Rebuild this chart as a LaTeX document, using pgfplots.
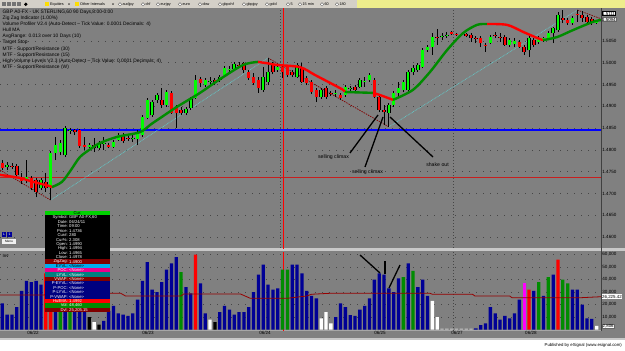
\documentclass[border=0pt]{standalone}
\usepackage{fontspec}
\setmainfont{Liberation Sans}
\usepackage{pgfplots}
\pgfplotsset{compat=1.18}
\usepackage{pgfplotstable}

\definecolor{bg}{RGB}{128,128,128}
\definecolor{candleG}{RGB}{0,255,0}
\definecolor{candleR}{RGB}{255,0,0}
\definecolor{maG}{RGB}{0,140,0}
\definecolor{maR}{RGB}{255,0,0}
\definecolor{volB}{RGB}{0,0,150}
\definecolor{volG}{RGB}{0,140,0}
\definecolor{volR}{RGB}{255,0,0}
\definecolor{volM}{RGB}{255,0,255}
\definecolor{volL}{RGB}{200,200,200}
\definecolor{zzR}{RGB}{130,0,0}
\definecolor{zzC}{RGB}{100,200,200}
\definecolor{gridc}{RGB}{70,70,70}
\definecolor{tbgray}{RGB}{212,208,200}
\definecolor{tbyel}{RGB}{238,238,140}
\definecolor{avgc}{RGB}{150,0,0}
\definecolor{navyc}{RGB}{0,0,128}
\definecolor{darkredc}{RGB}{128,0,0}
\definecolor{tealc}{RGB}{0,128,128}
\definecolor{hdrgreen}{RGB}{0,210,0}
\definecolor{hlred}{RGB}{200,30,30}
\definecolor{sepc}{RGB}{200,200,200}
\definecolor{supblue}{RGB}{0,0,255}

\newcommand{\tf}[1]{\fontsize{#1}{#1}\selectfont}

\pgfplotsset{errbaronly/.style={only marks, mark=*, mark size=0.05pt,
  mark options={draw opacity=0, fill opacity=0}}}

\pgfplotstableread{
i o h l c
0 1.4770 1.4777 1.4754 1.4759
1 1.4761 1.4772 1.4754 1.4766
2 1.4763 1.4770 1.4756 1.4761
3 1.4763 1.4768 1.4736 1.4743
4 1.4733 1.4747 1.4722 1.4729
5 1.4731 1.4777 1.4724 1.4738
6 1.4736 1.4740 1.4708 1.4713
7 1.4731 1.4736 1.4692 1.4704
8 1.4713 1.4736 1.4708 1.4731
9 1.4727 1.4747 1.4704 1.4713
10 1.4713 1.4798 1.4685 1.4793
11 1.4793 1.4830 1.4777 1.4811
12 1.4795 1.4823 1.4788 1.4816
13 1.4788 1.4855 1.4784 1.4851
14 1.4844 1.4851 1.4837 1.4846
15 1.4846 1.4848 1.4834 1.4841
16 1.4846 1.4848 1.4805 1.4809
17 1.4811 1.4830 1.4800 1.4807
18 1.4807 1.4816 1.4805 1.4811
19 1.4811 1.4828 1.4795 1.4805
20 1.4805 1.4821 1.4800 1.4816
21 1.4814 1.4830 1.4800 1.4816
22 1.4811 1.4816 1.4805 1.4807
23 1.4807 1.4823 1.4805 1.4818
24 1.4823 1.4839 1.4821 1.4834
25 1.4834 1.4839 1.4816 1.4821
26 1.4828 1.4834 1.4821 1.4825
27 1.4825 1.4837 1.4818 1.4828
28 1.4825 1.4846 1.4811 1.4841
29 1.4834 1.4880 1.4830 1.4876
30 1.4873 1.4919 1.4870 1.4915
31 1.4880 1.4915 1.4876 1.4910
32 1.4915 1.4931 1.4908 1.4926
33 1.4915 1.4942 1.4896 1.4903
34 1.4903 1.4938 1.4899 1.4933
35 1.4931 1.4935 1.4883 1.4885
36 1.4899 1.4903 1.4851 1.4885
37 1.4892 1.4899 1.4880 1.4885
38 1.4885 1.4899 1.4880 1.4894
39 1.4896 1.4922 1.4892 1.4917
40 1.4919 1.4972 1.4917 1.4961
41 1.4963 1.4967 1.4945 1.4954
42 1.4949 1.4965 1.4945 1.4961
43 1.4956 1.4967 1.4945 1.4958
44 1.4961 1.4965 1.4949 1.4954
45 1.4961 1.4972 1.4956 1.4967
46 1.4972 1.4993 1.4967 1.4988
47 1.4983 1.4993 1.4977 1.4986
48 1.4986 1.5002 1.4983 1.4997
49 1.4995 1.5002 1.4988 1.4993
50 1.4999 1.5002 1.4977 1.4983
51 1.4979 1.4983 1.4961 1.4965
52 1.4967 1.4977 1.4949 1.4954
53 1.4961 1.4967 1.4931 1.4942
54 1.4938 1.4990 1.4933 1.4967
55 1.4956 1.5011 1.4949 1.4979
56 1.4995 1.5002 1.4974 1.4979
57 1.4983 1.4997 1.4979 1.4990
58 1.4990 1.4994 1.4965 1.4978
59 1.4990 1.4995 1.4967 1.4972
60 1.4979 1.4983 1.4967 1.4972
61 1.4967 1.4999 1.4965 1.4995
62 1.4988 1.4999 1.4954 1.4956
63 1.4965 1.4970 1.4949 1.4954
64 1.4956 1.4961 1.4928 1.4933
65 1.4938 1.4942 1.4910 1.4922
66 1.4922 1.4942 1.4917 1.4938
67 1.4942 1.4947 1.4917 1.4922
68 1.4931 1.4935 1.4924 1.4928
69 1.4928 1.4938 1.4922 1.4931
70 1.4926 1.4931 1.4915 1.4919
71 1.4926 1.4949 1.4922 1.4945
72 1.4940 1.4947 1.4935 1.4942
73 1.4945 1.4949 1.4933 1.4938
74 1.4945 1.4965 1.4942 1.4961
75 1.4956 1.4967 1.4945 1.4958
76 1.4961 1.4977 1.4956 1.4972
77 1.4961 1.4965 1.4919 1.4922
78 1.4922 1.4926 1.4887 1.4892
79 1.4892 1.4903 1.4857 1.4887
80 1.4885 1.4908 1.4853 1.4903
81 1.4903 1.4935 1.4899 1.4931
82 1.4931 1.4956 1.4922 1.4942
83 1.4938 1.4961 1.4933 1.4956
84 1.4938 1.4983 1.4933 1.4979
85 1.4979 1.4995 1.4972 1.4988
86 1.4983 1.4999 1.4979 1.4995
87 1.4990 1.5034 1.4988 1.5029
88 1.5029 1.5041 1.5025 1.5036
89 1.5036 1.5068 1.5018 1.5059
90 1.5059 1.5078 1.5041 1.5057
91 1.5059 1.5068 1.5052 1.5062
92 1.5062 1.5071 1.5057 1.5064
93 1.5071 1.5073 1.5064 1.5066
94 1.5066 1.5068 1.5062 1.5064
95 1.5064 1.5068 1.5062 1.5066
96 1.5066 1.5068 1.5059 1.5062
97 1.5064 1.5068 1.5048 1.5057
98 1.5057 1.5062 1.5045 1.5055
99 1.5057 1.5062 1.5036 1.5045
100 1.5041 1.5045 1.5025 1.5039
101 1.5045 1.5064 1.5043 1.5059
102 1.5064 1.5071 1.5057 1.5062
103 1.5059 1.5068 1.5048 1.5057
104 1.5059 1.5064 1.5039 1.5041
105 1.5041 1.5057 1.5036 1.5052
106 1.5043 1.5057 1.5036 1.5050
107 1.5048 1.5052 1.5034 1.5036
108 1.5036 1.5041 1.5018 1.5025
109 1.5029 1.5062 1.5013 1.5057
110 1.5052 1.5057 1.5036 1.5041
111 1.5048 1.5062 1.5043 1.5057
112 1.5055 1.5059 1.5048 1.5057
113 1.5057 1.5073 1.5052 1.5068
114 1.5068 1.5082 1.5045 1.5080
115 1.5075 1.5117 1.5071 1.5110
116 1.5103 1.5121 1.5091 1.5098
117 1.5098 1.5103 1.5087 1.5091
118 1.5091 1.5107 1.5087 1.5103
119 1.5112 1.5121 1.5094 1.5110
120 1.5110 1.5119 1.5094 1.5103
121 1.5105 1.5110 1.5089 1.5094
122 1.5101 1.5105 1.5087 1.5091
123 1.5091 1.5098 1.5089 1.5094
}\candles

\newcommand{\prow}[5]{%
  \fill[#2] (45,{211+4.39*#1}) rectangle (110,{211+4.39*(#1+1)});
  \node[text=#3,anchor=east,inner sep=0pt,font=\tf{4.2}] at (68,{213.3+4.39*#1}) {#4};
  \node[text=#3,anchor=west,inner sep=0pt,font=\tf{4.2}] at (69,{213.3+4.39*#1}) {#5};}

\newcommand{\tbitem}[2]{%
  \draw[black!70, line width=0.3bp, fill=white] (#1,4.3) circle (1.7);
  \node[anchor=west,inner sep=0pt,font=\tf{3.8}] at ({#1+2.3},4.4) {#2};}

\begin{document}
\begin{tikzpicture}[x=1bp,y=1bp]
\path[use as bounding box] (0,0) rectangle (625,350);
\fill[bg] (0,0) rectangle (625,350);

% ---------- chrome (pixel coordinates, y downwards)
\begin{scope}[shift={(0bp,350bp)}, x=1bp, y=-1bp]
  \fill[tbgray] (0,0) rectangle (357,8.5);
  \fill[tbyel] (357,0) rectangle (625,8.5);
  \draw[black!50, line width=0.4bp] (0,8.5) -- (625,8.5);
  \foreach \xx in {2,7,12,17} {\fill[black!55] (\xx,2.2) rectangle ({\xx+3.5},6.4);}
  \fill[black] (24,4.3) -- (25.8,2.5) -- (27.6,4.3) -- (25.8,6.1) -- cycle;
  \fill[yellow!80!orange] (45,2.5) rectangle (49,6.2);
  \node[anchor=west,inner sep=0pt,font=\tf{3.8}] at (50,4.4) {Equities};
  \fill[black] (68,3.6) -- (70,3.6) -- (69,5) -- cycle;
  \fill[yellow!80!orange] (75,2.5) rectangle (79,6.2);
  \node[anchor=west,inner sep=0pt,font=\tf{3.8}] at (80,4.4) {Other Intervals};
  \fill[black] (112,3.6) -- (114,3.6) -- (113,5) -- cycle;
  \tbitem{120}{audjpy}
  \tbitem{143}{chf}
  \tbitem{158}{eurjpy}
  \tbitem{180}{euro}
  \tbitem{200}{dow}
  \tbitem{220}{gbpchf}
  \tbitem{244}{gbpjpy}
  \tbitem{267}{gold}
  \tbitem{288}{5}
  \tbitem{300}{15 min}
  \tbitem{322}{60}
  \tbitem{337}{180}
  % separator between panels
  \fill[sepc] (0,248.3) rectangle (625,250.6);
  % bottom strips
  \draw[black!35, line width=0.5bp] (0,330.6) -- (601,330.6);
  \fill[sepc] (0,337.5) rectangle (625,339.8);
  \fill[white] (0,339.8) rectangle (625,350);
  \node[anchor=east,inner sep=0pt,font=\tf{4.3}] at (622,345) {Published by eSignal (www.esignal.com)};
  % legend texts
  \begin{scope}[every node/.style={anchor=west,inner sep=0pt,font=\tf{4.9},text=black}]
    \node at (2.5,12) {GBP A0-FX - UK STERLING,60 90 Days,8:00-0:00};
    \node at (2.5,18) {Zig Zag Indicator (1.00\%)};
    \node at (2.5,24) {Volume Profiler V2.4 (Auto-Detect -- Tick Value: 0.0001 Decimals: 4)};
    \node at (2.5,30.2) {Hull MA};
    \node at (2.5,36.4) {AvgRange: 0.013 over 10 Days (10)};
    \node at (2.5,42.6) {Target Stop};
    \node at (2.5,48.8) {MTF - Support/Resistance (30)};
    \node at (2.5,55) {MTF - Support/Resistance (15)};
    \node at (2.5,61.2) {High-Volume Levels V2.3 (Auto-Detect -- Tick Value: 0.0001 Decimals: 4)};
    \node at (2.5,67.4) {MTF - Support/Resistance (W)};
  \end{scope}
  \node[anchor=west,inner sep=0pt,font=\tf{4.5}] at (2.5,256) {Inv};
\end{scope}

% ---------- price panel
\begin{axis}[
  at={(0bp,102bp)}, anchor=south west,
  scale only axis, width=601bp, height=239.5bp,
  xmin=-0.476, xmax=123.9, ymin=1.457515, ymax=1.512456,
  axis line style={draw=none}, tick style={draw=none},
  xtick=\empty,
  ytick={1.46,1.465,1.47,1.475,1.48,1.485,1.49,1.495,1.5,1.505},
  yticklabel pos=right, scaled y ticks=false,
  /pgf/number format/assume math mode=true,
  yticklabel style={font=\tf{4.6}, text=black, inner sep=1.2bp,
    /pgf/number format/fixed, /pgf/number format/fixed zerofill,
    /pgf/number format/precision=4},
  ymajorgrids, grid style={gridc, line width=0.6bp, dash pattern=on 0.6bp off 6.4bp},
]
\draw[gridc, line width=0.6bp, dash pattern=on 0.6bp off 2.4bp] (axis cs:57.5,1.45) -- (axis cs:57.5,1.52);
\draw[gridc, line width=0.6bp, dash pattern=on 0.6bp off 2.4bp] (axis cs:93.3,1.45) -- (axis cs:93.3,1.52);
\draw[red, line width=0.6bp] (axis cs:58.1,1.45) -- (axis cs:58.1,1.52);
% support / resistance levels
\addplot[supblue, line width=1.4bp] coordinates {(-1,1.4846) (125,1.4846)};
\addplot[hlred, line width=0.8bp] coordinates {(-1,1.4738) (125,1.4738)};
% zig zag
\addplot[zzR, line width=0.7bp, dash pattern=on 1.5bp off 1bp] coordinates {(-0.48,1.4754) (10,1.4685)};
\addplot[zzC, line width=0.7bp, dash pattern=on 0.8bp off 0.8bp] coordinates {(10,1.4685) (55,1.5011)};
\addplot[zzR, line width=0.7bp, dash pattern=on 1.5bp off 1bp] coordinates {(55,1.5011) (80,1.4853)};
\addplot[zzC, line width=0.7bp, dash pattern=on 0.8bp off 0.8bp] coordinates {(80,1.4853) (119,1.5121)};
\addplot[zzR, line width=0.7bp, dash pattern=on 1.5bp off 1bp] coordinates {(119,1.5121) (123.9,1.5101)};
% wicks
\addplot[errbaronly,
  error bars/.cd, y dir=plus, y explicit, error mark=none,
  error bar style={draw=black, line width=0.85bp}]
  table[x=i, y=l, y error plus expr=\thisrow{h}-\thisrow{l}] {\candles};
% body outline
\addplot[errbaronly,
  error bars/.cd, y dir=plus, y explicit, error mark=none,
  error bar style={draw=black, line width=3.5bp}]
  table[x=i, y expr={min(\thisrow{o},\thisrow{c})}, y error plus expr={abs(\thisrow{c}-\thisrow{o})}] {\candles};
% green bodies
\addplot[errbaronly,
  restrict expr to domain={\thisrow{c}-\thisrow{o}}{0:1},
  error bars/.cd, y dir=plus, y explicit, error mark=none,
  error bar style={draw=candleG, line width=2.5bp}]
  table[x=i, y=o, y error plus expr={\thisrow{c}-\thisrow{o}}] {\candles};
% red bodies
\addplot[errbaronly,
  restrict expr to domain={\thisrow{c}-\thisrow{o}}{-1:0},
  error bars/.cd, y dir=plus, y explicit, error mark=none,
  error bar style={draw=candleR, line width=2.5bp}]
  table[x=i, y=c, y error plus expr={\thisrow{o}-\thisrow{c}}] {\candles};
% Hull MA
\addplot[maR, line width=2.4bp, line join=round, line cap=round] coordinates {(-0.48,1.4743) (3.66,1.4736) (6.35,1.4727) (9.87,1.4717) (10.29,1.4715)};
\addplot[maG, line width=2.4bp, smooth, tension=0.5, line join=round] coordinates {(10.29,1.4715) (12.36,1.4727) (14.2,1.4754) (16.08,1.4784) (18.36,1.4803) (20.22,1.4816) (23.74,1.4830) (28.5,1.4841) (30.77,1.4859) (32.64,1.4873) (36.15,1.4899) (40.91,1.4931) (44.85,1.4961) (49.81,1.4995) (52.92,1.5002)};
\addplot[maR, line width=2.4bp, smooth, tension=0.5, line join=round] coordinates {(52.92,1.5002) (54.78,1.4999) (56.85,1.4995) (61.61,1.4990) (64.71,1.4972) (67.82,1.4954) (70.51,1.4938) (70.92,1.4933)};
\addplot[maG, line width=2.4bp] coordinates {(70.92,1.4933) (76.72,1.4931)};
\addplot[maR, line width=2.4bp, smooth, tension=0.5] coordinates {(76.72,1.4931) (78.17,1.4926) (80.86,1.4915)};
\addplot[maG, line width=2.4bp, smooth, tension=0.5, line join=round] coordinates {(80.86,1.4915) (84.99,1.4938) (88.51,1.4979) (92.03,1.5029) (95.34,1.5068) (98.24,1.5087) (100.31,1.5089)};
\addplot[maR, line width=2.4bp, smooth, tension=0.5, line join=round] coordinates {(100.31,1.5089) (104.45,1.5087) (107.76,1.5071) (110.66,1.5057) (111.9,1.5052)};
\addplot[maG, line width=2.4bp, smooth, tension=0.5, line join=round] coordinates {(111.9,1.5052) (114.8,1.5059) (118.1,1.5075) (122.25,1.5094) (123.9,1.5098)};
\end{axis}

% ---------- volume panel
\begin{axis}[
  at={(0bp,20bp)}, anchor=south west,
  scale only axis, width=601bp, height=78bp,
  xmin=-0.476, xmax=123.9, ymin=-400, ymax=62000,
  axis line style={draw=none}, tick style={draw=none},
  xtick={6.35,30.15,54.37,78.17,94.1,109.4},
  xticklabels={06/22,06/23,06/24,06/25,06/27,06/28},
  xticklabel style={font=\tf{4.6}, text=black, inner sep=0.6bp},
  ytick={10000,20000,30000,40000,50000,60000},
  yticklabel pos=right, scaled y ticks=false,
  /pgf/number format/assume math mode=true,
  yticklabel style={font=\tf{4.6}, text=black, inner sep=1.2bp,
    /pgf/number format/fixed, /pgf/number format/precision=0,
    /pgf/number format/1000 sep={,}},
  ymajorgrids, grid style={gridc, line width=0.6bp, dash pattern=on 0.6bp off 6.4bp},
]
\draw[gridc, line width=0.6bp, dash pattern=on 0.6bp off 2.4bp] (axis cs:93.3,-1000) -- (axis cs:93.3,70000);
\draw[red, line width=0.6bp] (axis cs:58.1,-1000) -- (axis cs:58.1,70000);
\addplot[ybar, bar width=3.3bp, bar shift=0pt, fill=volB, draw=none] coordinates {
(0,21000)(1,12000)(2,12000)(3,18000)(4,31000)(5,39000)(6,38000)(7,39000)(8,36000)(11,30000)(13,28000)(15,25000)(16,22000)(17,18000)(21,7000)(22,15000)(23,19000)(24,13000)(25,12000)(26,11000)(27,13000)(28,24000)(29,39000)(30,54000)(31,32000)(32,30000)(33,38000)(34,48000)(35,53000)(36,58000)(38,34000)(39,29000)(41,37000)(42,13000)(45,14000)(46,19000)(47,16000)(48,12000)(49,14000)(50,14000)(51,18000)(52,30000)(53,44000)(54,52000)(55,36000)(56,32000)(57,33000)(60,52000)(61,52000)(62,45000)(63,31000)(64,27000)(65,25000)(69,10000)(70,21000)(71,18000)(72,11500)(73,11000)(74,16000)(75,19000)(76,25000)(77,40000)(78,45000)(79,44000)(80,33000)(81,30000)(82,41000)(84,53000)(86,34000)(87,40000)(88,27000)(98,1000)(99,3500)(100,5000)(101,18000)(102,13000)(103,8000)(104,11000)(105,9000)(106,13000)(107,24000)(110,31000)(112,27000)(114,44000)(118,32000)(119,32000)(120,20000)(121,9000)(122,8500)};
\addplot[ybar, bar width=3.3bp, bar shift=0pt, fill=volR, draw=none] coordinates {(9,45000)(10,40000)(40,60000)(109,32000)(115,56000)};
\addplot[ybar, bar width=3.3bp, bar shift=0pt, fill=volG, draw=none] coordinates {(12,35000)(14,30000)(37,46000)(58,48000)(59,48000)(83,42000)(85,47000)(111,38000)(113,42000)(116,40000)(117,37000)};
\addplot[ybar, bar width=3.3bp, bar shift=0pt, fill=white, draw=none] coordinates {(19,6000)(43,8000)(66,9000)(67,14000)(68,5000)(89,23000)(90,10000)(123,2806)};
\addplot[ybar, bar width=3.3bp, bar shift=0pt, fill=black, draw=none] coordinates {(18,10000)(20,4000)(44,6000)};
\addplot[ybar, bar width=3.3bp, bar shift=0pt, fill=volM, draw=none] coordinates {(108,37000)};
\addplot[ybar, bar width=3.3bp, bar shift=0pt, fill=volL, draw=none] coordinates {(91,800)(92,700)(93,800)(94,700)(95,800)(96,700)(97,800)};
\addplot[avgc, line width=0.8bp] coordinates {(-0.48,27600) (8,27600) (19.5,29000) (24.5,29000) (25.5,26800) (37,26800) (37.5,28400) (49.3,28400) (51.3,25000) (59,25000) (63,26800) (64,28200) (68,29000) (88.5,29000) (89,28200) (97.3,28200) (97.8,26800) (105,26800) (105.5,25400) (119.5,25400) (123.9,26225)};
\end{axis}

% ---------- overlays (pixel coordinates)
\begin{scope}[shift={(0bp,350bp)}, x=1bp, y=-1bp]
  \draw[black!75, line width=0.7bp] (601,8.5) -- (601,331);
  % current value boxes
  \node[fill=white, draw=black, line width=0.3bp, inner sep=0.5bp, anchor=west, font=\tf{4.4}] at (601.5,13.6) {1.5111};
  \node[fill=white!85!gray, draw=black!60, line width=0.3bp, inner sep=0.5bp, anchor=west, font=\tf{4.4}] at (601.5,19.6) {1.5094};
  \node[fill=white, inner sep=0.5bp, anchor=west, font=\tf{4.4}] at (601.5,296.8) {26,225.42};
  \node[fill=white, draw=black!60, line width=0.3bp, inner sep=0.5bp, anchor=west, font=\tf{4.4}] at (602,326) {2,806};
  % annotations
  \draw[black, line width=1.3bp] (378,115) -- (350,153);
  \draw[black, line width=1.3bp] (383,117) -- (365,167);
  \draw[black, line width=1.3bp] (390,117) -- (433,157);
  \node[font=\tf{5.2}, inner sep=0pt] at (333.5,157.5) {selling climax};
  \node[font=\tf{5.2}, inner sep=0pt] at (367.5,172.5) {selling climax};
  \node[font=\tf{5.2}, inner sep=0pt] at (437.5,164.5) {shake out};
  \draw[black, line width=1.3bp] (360,255) -- (380,273);
  \draw[black, line width=1.3bp] (385,261) -- (385,274);
  \draw[black, line width=1.3bp] (400,265) -- (389,288);
  % small buttons
  \fill[navyc!80!blue] (2,232) rectangle (6.3,237.3);
  \fill[navyc!80!blue] (7.3,232) rectangle (11.6,237.3);
  \node[text=white, font=\tf{3.4}, inner sep=0pt] at (4.15,234.7) {L};
  \node[text=white, font=\tf{3.4}, inner sep=0pt] at (9.45,234.7) {1};
  \fill[white!88!gray] (2,239) rectangle (16,243.6);
  \node[font=\tf{3.2}, inner sep=0pt] at (9,241.3) {Menu};
  % cursor data window
  \fill[hdrgreen] (45,211) rectangle (110,215.39);
  \node[font=\tf{4.2}, inner sep=0pt] at (77.5,213.3) {Cur.};
  \prow{1}{black}{white}{Symbol:}{GBP A0-FX,60}
  \prow{2}{black}{white}{Date:}{06/24/11}
  \prow{3}{black}{white}{Time:}{09:00}
  \prow{4}{black}{white}{Price:}{1.4736}
  \prow{5}{black}{white}{Cur\#:}{280}
  \prow{6}{black}{white}{Cur\%:}{2.308}
  \prow{7}{black}{white}{Open:}{1.4990}
  \prow{8}{black}{white}{High:}{1.4994}
  \prow{9}{black}{white}{Low:}{1.4965}
  \prow{10}{black}{white}{Close:}{1.4978}
  \prow{11}{darkredc}{white}{ZigZag:}{1.4900}
  \prow{12}{cyan}{black}{EYVL:}{<None>}
  \prow{13}{magenta}{white}{POC:}{<None>}
  \prow{14}{tealc}{white}{LYVL:}{<None>}
  \prow{15}{darkredc}{white}{VWAP:}{<None>}
  \prow{16}{navyc}{white}{P-EYVL:}{<None>}
  \prow{17}{navyc}{white}{P-POC:}{<None>}
  \prow{18}{navyc}{white}{P-LYVL:}{<None>}
  \prow{19}{navyc}{white}{P-VWAP:}{<None>}
  \prow{20}{red}{white}{HullMA:}{1.4992}
  \prow{21}{volG}{white}{Vol:}{48,460}
  \prow{22}{darkredc}{white}{Dvl:}{25,205.15}
\end{scope}
\end{tikzpicture}
\end{document}
